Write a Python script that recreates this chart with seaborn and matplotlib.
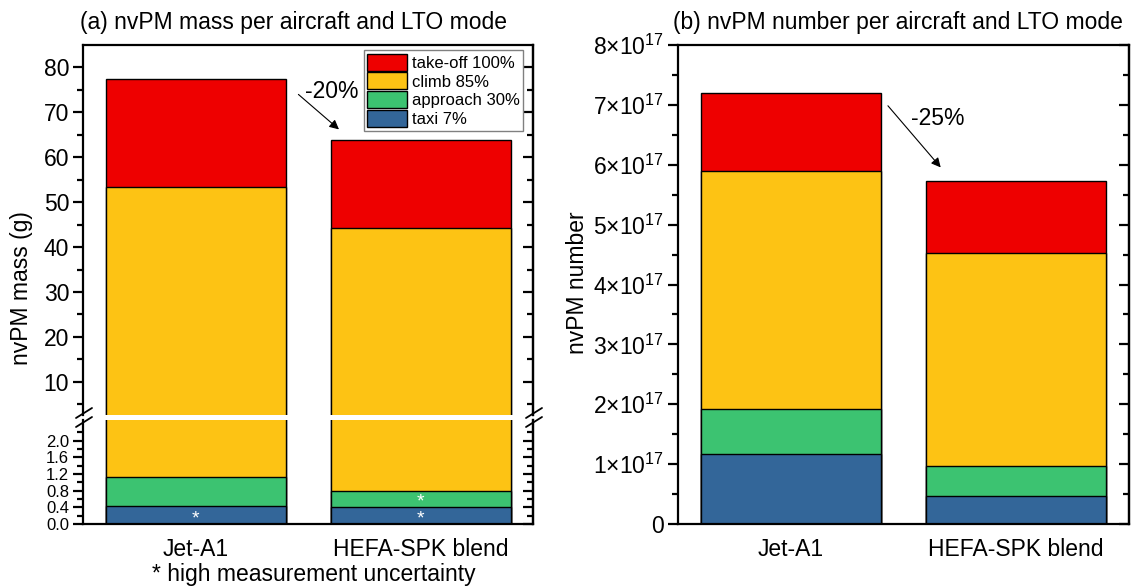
import numpy as np
import pandas as pd
import matplotlib
matplotlib.use("Agg")
import matplotlib.pyplot as plt
from matplotlib.patches import Patch
from matplotlib.lines import Line2D
from matplotlib.ticker import MultipleLocator, FixedLocator, FuncFormatter
import seaborn as sns

# data
fuels = ["Jet-A1", "HEFA-SPK blend"]
modes = ["take-off 100%", "climb 85%", "approach 30%", "taxi 7%"]
colors = ["#EE0000", "#FDC314", "#3CC371", "#336699"]

# nvPM mass per mode (g), order: taxi, approach, climb, take-off
mass_taxi = [0.44, 0.42]
mass_approach = [0.69, 0.37]
mass_climb = [52.2, 43.4]
mass_takeoff = [24.0, 19.6]

# nvPM number per mode
num_taxi = [1.17e17, 0.47e17]
num_approach = [0.75e17, 0.50e17]
num_climb = [3.98e17, 3.56e17]
num_takeoff = [1.30e17, 1.20e17]

sns.set_theme(style="ticks")
plt.rcParams["font.family"] = ["Liberation Sans", "DejaVu Sans"]
plt.rcParams["mathtext.fontset"] = "custom"
plt.rcParams["mathtext.rm"] = "Liberation Sans"
plt.rcParams["mathtext.it"] = "Liberation Sans"
plt.rcParams["mathtext.default"] = "regular"
plt.rcParams["text.color"] = "black"
plt.rcParams["xtick.color"] = "black"
plt.rcParams["ytick.color"] = "black"
plt.rcParams["xtick.labelcolor"] = "black"
plt.rcParams["ytick.labelcolor"] = "black"

FS = 16.5
W, H = 1136, 586
fig = plt.figure(figsize=(W / 100, H / 100), dpi=100)


def fx(px):
    return px / W


def fy(py):
    return 1 - py / H


def stacked(ax, parts):
    # draw cumulative totals from biggest to smallest so they overlap as a stack
    cum = np.cumsum(np.array(parts), axis=0)  # taxi, +approach, +climb, +takeoff
    order = [3, 2, 1, 0]
    for i, c in zip(order, colors):
        df = pd.DataFrame({"fuel": fuels, "val": cum[i]})
        sns.barplot(data=df, x="fuel", y="val", color=c, saturation=1, width=0.8,
                    edgecolor="black", linewidth=1, errorbar=None, ax=ax)
    ax.set_xlim(-0.5, 1.5)
    ax.set_xlabel("")
    ax.set_ylabel("")


def style_axis(ax, major, minor, top=True, bottom=True, labelsize=FS):
    for s in ax.spines.values():
        s.set_linewidth(1.6)
        s.set_color("black")
    ax.spines["top"].set_visible(top)
    ax.spines["bottom"].set_visible(bottom)
    ax.yaxis.set_major_locator(major)
    ax.yaxis.set_minor_locator(minor)
    ax.tick_params(axis="y", which="major", direction="out", length=7, width=1.6,
                   labelsize=labelsize, pad=3)
    ax.tick_params(axis="y", which="minor", direction="out", length=4, width=1.6)
    ax.tick_params(axis="x", length=0, labelsize=FS, pad=10)
    sec = ax.secondary_yaxis("right")
    sec.yaxis.set_major_locator(major)
    sec.yaxis.set_minor_locator(minor)
    sec.tick_params(which="major", direction="in", length=7, width=1.6, labelright=False)
    sec.tick_params(which="minor", direction="in", length=4, width=1.6, labelright=False)
    sec.spines["right"].set_linewidth(1.6)
    sec.spines["right"].set_color("black")


# ---- (a) mass, broken axis ----
mass_parts = [mass_taxi, mass_approach, mass_climb, mass_takeoff]
ax_top = fig.add_axes([fx(83), fy(415), fx(533) - fx(83), fy(45) - fy(415)])
ax_bot = fig.add_axes([fx(83), fy(524), fx(533) - fx(83), fy(420) - fy(524)])
stacked(ax_top, mass_parts)
stacked(ax_bot, mass_parts)
ax_top.set_ylim(2.6, 85)
ax_bot.set_ylim(0, 2.5)
style_axis(ax_top, FixedLocator([10, 20, 30, 40, 50, 60, 70, 80]),
           FixedLocator([5, 15, 25, 35, 45, 55, 65, 75]), top=True, bottom=False)
style_axis(ax_bot, FixedLocator([0.0, 0.4, 0.8, 1.2, 1.6, 2.0]),
           FixedLocator([0.2, 0.6, 1.0, 1.4, 1.8, 2.2]), top=False, bottom=True, labelsize=12)
ax_top.set_xticks([])
ax_bot.yaxis.set_major_formatter(FuncFormatter(lambda v, p: f"{v:.1f}"))

# break marks
for xb in (83, 533):
    for yb in (413, 422):
        fig.add_artist(Line2D([fx(xb - 7), fx(xb + 9)], [fy(yb + 5), fy(yb - 5)],
                              transform=fig.transFigure, color="black", lw=1.3))

ax_top.legend(handles=[Patch(facecolor=c, edgecolor="black", label=m) for m, c in zip(modes, colors)],
              loc="upper right", bbox_to_anchor=(0.978, 0.986), borderaxespad=0,
              fontsize=12, frameon=True, fancybox=False, framealpha=1, edgecolor="gray",
              handlelength=2.4, handleheight=1.2, labelspacing=0.1, handletextpad=0.3,
              borderpad=0.2)

ax_top.annotate("", xy=(0.647, 65.8), xytext=(0.448, 74.4),
                arrowprops=dict(arrowstyle="-|>", color="black", lw=0.8, mutation_scale=14))
ax_top.text(0.605, 74.7, "-20%", fontsize=FS, ha="center", va="center")

for xs, ys in [(0, 0.12), (1, 0.12), (1, 0.52)]:
    ax_bot.text(xs, ys, "*", color="white", fontsize=14, ha="center", va="center")

fig.text(fx(80), fy(22), "(a) nvPM mass per aircraft and LTO mode", fontsize=FS, ha="left", va="center")
fig.text(fx(22), fy(288), "nvPM mass (g)", fontsize=FS, rotation=90, ha="center", va="center")
fig.text(fx(314), fy(575), "* high measurement uncertainty", fontsize=FS, ha="center", va="center")

# ---- (b) number ----
num_parts = [num_taxi, num_approach, num_climb, num_takeoff]
ax_r = fig.add_axes([fx(678), fy(524), fx(1129) - fx(678), fy(45) - fy(524)])
stacked(ax_r, num_parts)
ax_r.set_ylim(0, 8e17)
style_axis(ax_r, MultipleLocator(1e17), MultipleLocator(0.5e17))
ax_r.yaxis.set_major_formatter(FuncFormatter(
    lambda v, p: "0" if abs(v) < 1 else f"{int(round(v / 1e17))}×10$^{{17}}$"))

ax_r.annotate("", xy=(0.673, 5.92e17), xytext=(0.423, 7.02e17),
              arrowprops=dict(arrowstyle="-|>", color="black", lw=0.8, mutation_scale=14))
ax_r.text(0.651, 6.78e17, "-25%", fontsize=FS, ha="center", va="center")

fig.text(fx(673), fy(22), "(b) nvPM number per aircraft and LTO mode", fontsize=FS, ha="left", va="center")
fig.text(fx(578), fy(283), "nvPM number", fontsize=FS, rotation=90, ha="center", va="center")

fig.savefig("out.png", dpi=100)
